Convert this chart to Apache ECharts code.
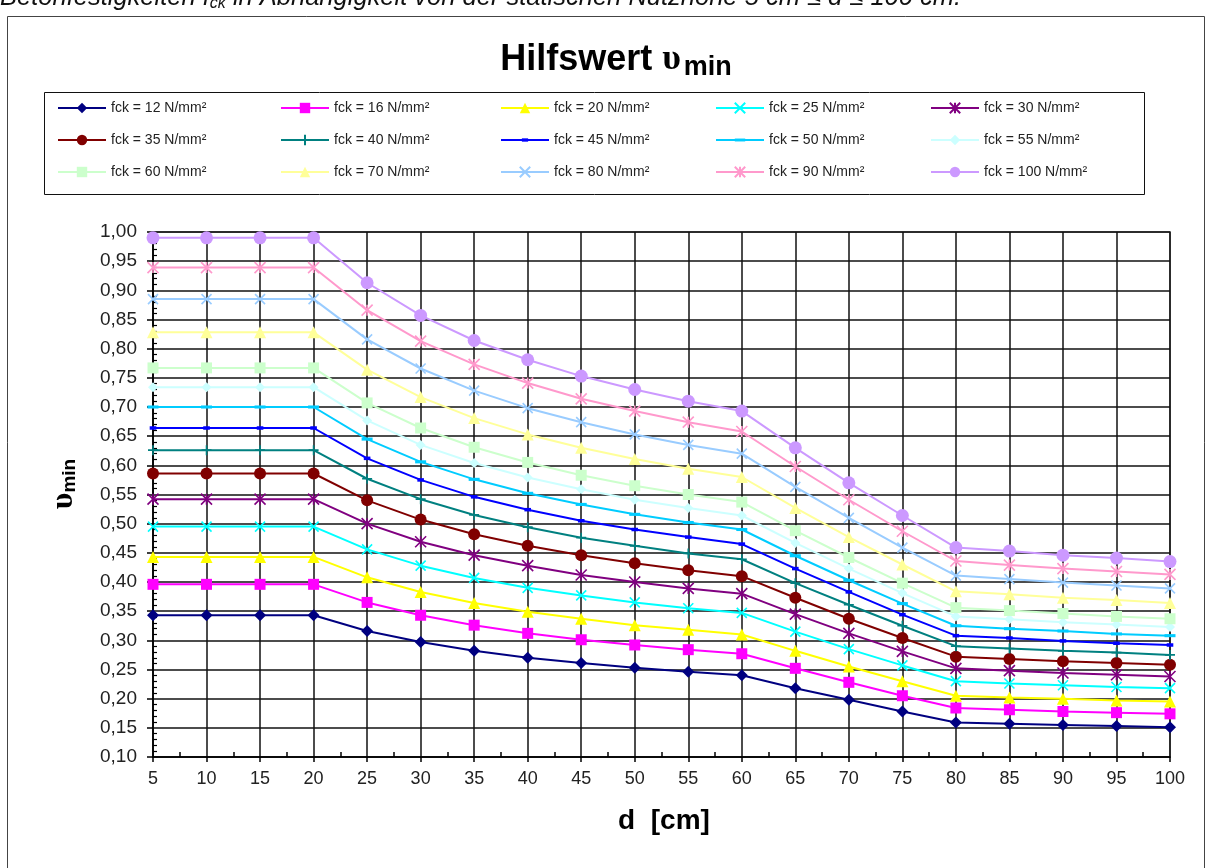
<!DOCTYPE html>
<html>
<head>
<meta charset="utf-8">
<title>Hilfswert υmin</title>
<script src="https://cdn.jsdelivr.net/npm/echarts@6/dist/echarts.min.js"></script>
<style>
  html, body { margin: 0; padding: 0; background: #fff; }
  #chart { width: 1212px; height: 868px; }
</style>
</head>
<body>
<div id="chart"></div>
<script>
// Effective depth d [cm]
const depths = [5, 10, 15, 20, 25, 30, 35, 40, 45, 50, 55, 60, 65, 70, 75, 80, 85, 90, 95, 100];

// Concrete strength classes fck [N/mm²]
const strengths = [12, 16, 20, 25, 30, 35, 40, 45, 50, 55, 60, 70, 80, 90, 100];

// υmin per strength class, one value per depth
const vFck12  = [0.343, 0.343, 0.343, 0.343, 0.316, 0.297, 0.282, 0.270, 0.261, 0.253, 0.246, 0.240, 0.218, 0.198, 0.178, 0.159, 0.157, 0.155, 0.153, 0.151];
const vFck16  = [0.396, 0.396, 0.396, 0.396, 0.365, 0.343, 0.326, 0.312, 0.301, 0.292, 0.284, 0.277, 0.252, 0.228, 0.205, 0.184, 0.181, 0.178, 0.176, 0.174];
const vFck20  = [0.443, 0.443, 0.443, 0.443, 0.408, 0.383, 0.364, 0.349, 0.337, 0.326, 0.318, 0.310, 0.282, 0.255, 0.230, 0.205, 0.202, 0.200, 0.197, 0.195];
const vFck25  = [0.495, 0.495, 0.495, 0.495, 0.456, 0.428, 0.407, 0.390, 0.377, 0.365, 0.355, 0.347, 0.315, 0.285, 0.257, 0.230, 0.226, 0.223, 0.220, 0.218];
const vFck30  = [0.542, 0.542, 0.542, 0.542, 0.500, 0.469, 0.446, 0.428, 0.412, 0.400, 0.389, 0.380, 0.345, 0.312, 0.281, 0.252, 0.248, 0.244, 0.241, 0.238];
const vFck35  = [0.586, 0.586, 0.586, 0.586, 0.540, 0.507, 0.482, 0.462, 0.446, 0.432, 0.420, 0.410, 0.373, 0.337, 0.304, 0.272, 0.268, 0.264, 0.261, 0.258];
const vFck40  = [0.626, 0.626, 0.626, 0.626, 0.577, 0.542, 0.515, 0.494, 0.476, 0.462, 0.449, 0.439, 0.398, 0.361, 0.325, 0.290, 0.286, 0.282, 0.279, 0.275];
const vFck45  = [0.664, 0.664, 0.664, 0.664, 0.612, 0.575, 0.546, 0.524, 0.505, 0.490, 0.477, 0.465, 0.423, 0.383, 0.344, 0.308, 0.304, 0.299, 0.295, 0.292];
const vFck50  = [0.700, 0.700, 0.700, 0.700, 0.645, 0.606, 0.576, 0.552, 0.533, 0.516, 0.502, 0.490, 0.445, 0.403, 0.363, 0.325, 0.320, 0.316, 0.311, 0.308];
const vFck55  = [0.734, 0.734, 0.734, 0.734, 0.677, 0.635, 0.604, 0.579, 0.559, 0.541, 0.527, 0.514, 0.467, 0.423, 0.381, 0.341, 0.336, 0.331, 0.327, 0.323];
const vFck60  = [0.767, 0.767, 0.767, 0.767, 0.707, 0.664, 0.631, 0.605, 0.583, 0.565, 0.550, 0.537, 0.488, 0.442, 0.398, 0.356, 0.351, 0.346, 0.341, 0.337];
const vFck70  = [0.828, 0.828, 0.828, 0.828, 0.764, 0.717, 0.681, 0.653, 0.630, 0.611, 0.594, 0.580, 0.527, 0.477, 0.430, 0.384, 0.379, 0.373, 0.369, 0.364];
const vFck80  = [0.885, 0.885, 0.885, 0.885, 0.816, 0.766, 0.728, 0.698, 0.674, 0.653, 0.635, 0.620, 0.563, 0.510, 0.459, 0.411, 0.405, 0.399, 0.394, 0.389];
const vFck90  = [0.939, 0.939, 0.939, 0.939, 0.866, 0.813, 0.773, 0.741, 0.714, 0.693, 0.674, 0.658, 0.598, 0.541, 0.487, 0.436, 0.429, 0.423, 0.418, 0.413];
const vFck100 = [0.990, 0.990, 0.990, 0.990, 0.913, 0.857, 0.814, 0.781, 0.753, 0.730, 0.710, 0.693, 0.630, 0.570, 0.514, 0.459, 0.453, 0.446, 0.441, 0.435];

const seriesValues = [vFck12, vFck16, vFck20, vFck25, vFck30, vFck35, vFck40, vFck45,
                      vFck50, vFck55, vFck60, vFck70, vFck80, vFck90, vFck100];

// Line colours and marker shapes, in series order
const colors = ['#000080', '#FF00FF', '#FFFF00', '#00FFFF', '#800080', '#800000', '#008080', '#0000FF',
                '#00CCFF', '#CCFFFF', '#CCFFCC', '#FFFF99', '#99CCFF', '#FF99CC', '#CC99FF'];

// Stroked marker outlines (drawn with a border) and dash markers that
// keep a square bounding box so they stay flat in the legend as well
const X_PATH = 'path://M0,0L10,10M10,0L0,10';
const STAR_PATH = 'path://M0,0L10,10M10,0L0,10M5,0L5,10';
const PLUS_PATH = 'path://M5,0L5,10M0,5L10,5';
const DASH_SHORT = 'path://M0,0M10,10M2,3.4L8,3.4L8,6.6L2,6.6Z';
const DASH_LONG = 'path://M0,0M10,10M0,3.6L10,3.6L10,6.4L0,6.4Z';

const markers = [
  { symbol: 'diamond', size: 12 },
  { symbol: 'rect', size: 11 },
  { symbol: 'triangle', size: 12 },
  { symbol: X_PATH, size: 10, stroke: true },
  { symbol: STAR_PATH, size: 11, stroke: true },
  { symbol: 'circle', size: 12 },
  { symbol: PLUS_PATH, size: 10, stroke: true },
  { symbol: DASH_SHORT, size: 11 },
  { symbol: DASH_LONG, size: 11 },
  { symbol: 'diamond', size: 10 },
  { symbol: 'rect', size: 11 },
  { symbol: 'triangle', size: 12 },
  { symbol: X_PATH, size: 10, stroke: true },
  { symbol: STAR_PATH, size: 11, stroke: true },
  { symbol: 'circle', size: 13 }
];

const names = strengths.map(f => 'fck = ' + f + ' N/mm²');

const FONT = '"Liberation Sans", Arial, sans-serif';
const GREEK = '"Liberation Serif", "Times New Roman", serif';

const series = seriesValues.map((vals, i) => {
  const m = markers[i];
  return {
    name: names[i],
    type: 'line',
    data: depths.map((d, j) => [d, vals[j]]),
    symbol: m.symbol,
    symbolSize: m.size,
    showAllSymbol: true,
    lineStyle: { color: colors[i], width: 2 },
    itemStyle: m.stroke
      ? { color: colors[i], borderColor: colors[i], borderWidth: 1.6 }
      : { color: colors[i], borderWidth: 0 },
    emphasis: { disabled: true },
    animation: false,
    z: 3 + i
  };
});

// Legend: five columns of three entries
const legendCols = [57, 280, 500, 715, 930];
const legend = legendCols.map((left, c) => ({
  orient: 'vertical',
  left: left,
  top: 101,
  padding: 0,
  itemWidth: 48,
  itemHeight: 13,
  itemGap: 18,
  selectedMode: false,
  data: [names[c], names[c + 5], names[c + 10]],
  textStyle: { fontFamily: FONT, fontSize: 14, color: '#222', lineHeight: 14 }
}));

const chart = echarts.init(document.getElementById('chart'), null, { renderer: 'canvas' });

chart.setOption({
  animation: false,
  backgroundColor: '#fff',
  legend: legend,
  grid: {
    left: 153, top: 232, width: 1017, height: 525,
    show: true, borderColor: '#808080', borderWidth: 2,
    containLabel: false
  },
  xAxis: [
    {
      type: 'value', min: 5, max: 100, interval: 5,
      axisLine: { show: true, lineStyle: { color: '#000', width: 1.5 } },
      axisTick: { show: true, inside: false, length: 5, lineStyle: { color: '#000', width: 1.5 } },
      axisLabel: { margin: 13, fontFamily: FONT, fontSize: 18, color: '#222' },
      splitLine: { show: true, lineStyle: { color: '#111', width: 1.5 } }
    },
    {
      type: 'value', min: 5, max: 100, interval: 5, position: 'bottom',
      axisLine: { show: false },
      axisTick: { show: false, inside: true },
      minorTick: { show: true, splitNumber: 2, length: 5, lineStyle: { color: '#000', width: 1.5 } },
      axisLabel: { show: false },
      splitLine: { show: false }
    }
  ],
  yAxis: [
    {
      type: 'value', min: 0.10, max: 1.00, interval: 0.05,
      axisLine: { show: true, lineStyle: { color: '#000', width: 1.5 } },
      axisTick: { show: true, inside: false, length: 6, lineStyle: { color: '#000', width: 1.5 } },
      axisLabel: {
        margin: 16, fontFamily: FONT, fontSize: 19, color: '#222',
        formatter: v => v.toFixed(2).replace('.', ',')
      },
      splitLine: { show: true, lineStyle: { color: '#111', width: 1.5 } }
    },
    {
      type: 'value', min: 0.10, max: 1.00, interval: 0.05, position: 'left',
      axisLine: { show: false },
      axisTick: { show: false, inside: true },
      minorTick: { show: true, splitNumber: 5, length: 4, lineStyle: { color: '#000', width: 1.2 } },
      axisLabel: { show: false },
      splitLine: { show: false }
    }
  ],
  series: series,
  graphic: [
    // outer frame
    { type: 'rect', silent: true, z: 0,
      shape: { x: 7.5, y: 16.5, width: 1197, height: 880 },
      style: { fill: 'none', stroke: '#444', lineWidth: 1 } },
    // caption line above the frame
    { type: 'text', silent: true, left: 0, top: -15,
      style: {
        text: '{t|Betonfestigkeiten f}{s|ck}{t| in Abhängigkeit von der statischen Nutzhöhe 5 cm ≤ d ≤ 100 cm.}',
        rich: {
          t: { fontFamily: FONT, fontSize: 25.5, fontStyle: 'italic', fill: '#111', lineHeight: 30 },
          s: { fontFamily: FONT, fontSize: 16, fontStyle: 'italic', fill: '#111', padding: [12, 0, 0, 0] }
        }
      } },
    // legend border
    { type: 'rect', silent: true, z: 1,
      shape: { x: 44.5, y: 92.5, width: 1100, height: 102 },
      style: { fill: 'none', stroke: '#111', lineWidth: 1 } },
    // chart title
    { type: 'text', silent: true, x: 616, y: 60,
      style: {
        text: '{h|Hilfswert }{u|υ}{m|min}',
        align: 'center', verticalAlign: 'middle',
        rich: {
          h: { fontFamily: FONT, fontSize: 36, fontWeight: 'bold', fill: '#000' },
          u: { fontFamily: GREEK, fontSize: 36, fontWeight: 'bold', fill: '#000', padding: [0, 3, 0, 0] },
          m: { fontFamily: FONT, fontSize: 27, fontWeight: 'bold', fill: '#000', padding: [16, 0, 0, 0] }
        }
      } },
    // x-axis name
    { type: 'text', silent: true, x: 664, y: 821,
      style: {
        text: 'd  [cm]', align: 'center', verticalAlign: 'middle',
        fontFamily: FONT, fontSize: 28, fontWeight: 'bold', fill: '#000'
      } },
    // y-axis name
    { type: 'text', silent: true, x: 64, y: 484, rotation: Math.PI / 2,
      style: {
        text: '{u|υ}{m|min}', align: 'center', verticalAlign: 'middle',
        rich: {
          u: { fontFamily: GREEK, fontSize: 32, fontWeight: 'bold', fill: '#000' },
          m: { fontFamily: FONT, fontSize: 19, fontWeight: 'bold', fill: '#000', padding: [11, 0, 0, 0] }
        }
      } }
  ]
});
</script>
</body>
</html>
